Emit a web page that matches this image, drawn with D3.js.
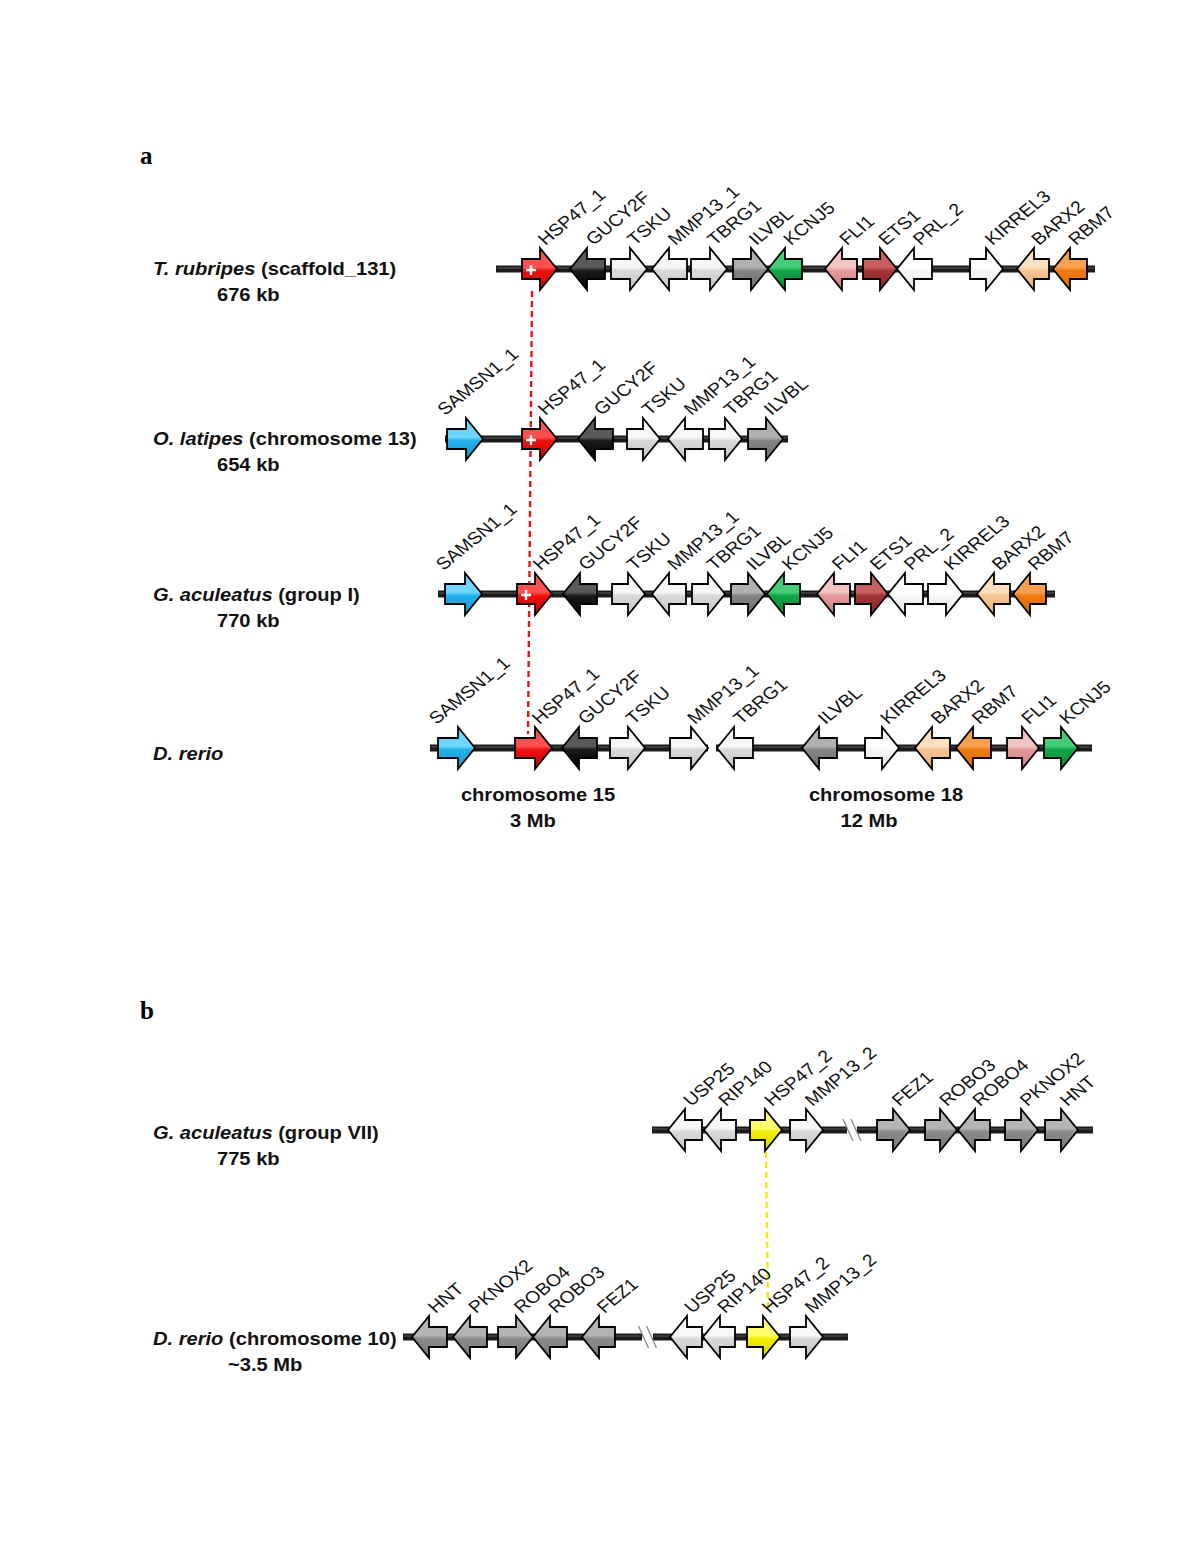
<!DOCTYPE html>
<html><head><meta charset="utf-8">
<script src="https://cdn.jsdelivr.net/npm/d3@7"></script>
<style>body{margin:0;background:#fff}svg{display:block}</style>
</head><body>
<script>
// ---------- DATA (positions in map units along the chromosome drawing) ----------
// gene: [name, start, end, strand(1 right / -1 left), colourClass, plusMark]
const genesTRubripes = [
  ["HSP47_1",122,157,1,"red",true],["GUCY2F",170,205,-1,"black"],["TSKU",211,247,1,"lgray"],
  ["MMP13_1",252,287,-1,"lgray"],["TBRG1",291,327,1,"lgray"],["ILVBL",333,368,1,"dgray"],
  ["KCNJ5",368,402,-1,"green"],["FLI1",425,457,-1,"pink"],["ETS1",463,497,1,"darkred"],
  ["PRL_2",497,532,-1,"white"],["KIRREL3",570,603,1,"white"],["BARX2",617,649,-1,"peach"],
  ["RBM7",653,687,-1,"orange"]
];
const genesOLatipes = [
  ["SAMSN1_1",47,83,1,"cyan"],["HSP47_1",122,157,1,"red",true],["GUCY2F",178,213,-1,"black"],
  ["TSKU",227,260,1,"lgray"],["MMP13_1",268,303,-1,"lgray"],["TBRG1",309,342,1,"lgray"],
  ["ILVBL",348,383,1,"dgray"]
];
const genesGAculeatusI = [
  ["SAMSN1_1",45,82,1,"cyan"],["HSP47_1",117,152,1,"red",true],["GUCY2F",163,197,-1,"black"],
  ["TSKU",212,245,1,"lgray"],["MMP13_1",252,286,-1,"lgray"],["TBRG1",292,325,1,"lgray"],
  ["ILVBL",331,365,1,"dgray"],["KCNJ5",367,400,-1,"green"],["FLI1",417,450,-1,"pink"],
  ["ETS1",455,488,1,"darkred"],["PRL_2",488,523,-1,"white"],["KIRREL3",528,563,1,"white"],
  ["BARX2",577,610,-1,"peach"],["RBM7",613,646,-1,"orange"]
];
const genesDRerioA = [
  ["SAMSN1_1",38,75,1,"cyan"],["HSP47_1",115,152,1,"red"],["GUCY2F",162,197,-1,"black"],
  ["TSKU",210,245,1,"lgray"],["MMP13_1",270,308,1,"lgray"],["TBRG1",317,353,-1,"lgray"],
  ["ILVBL",402,437,-1,"dgray"],["KIRREL3",465,499,1,"white"],["BARX2",515,550,-1,"peach"],
  ["RBM7",556,591,-1,"orange"],["FLI1",607,639,1,"pink"],["KCNJ5",644,678,1,"green"]
];
const genesGAculeatusVII = [
  ["USP25",268,302,-1,"lgray"],["RIP140",304,336,-1,"lgray"],["HSP47_2",350,382,1,"yellow"],
  ["MMP13_2",390,423,1,"lgray"],["FEZ1",477,510,1,"mgray"],["ROBO3",525,557,1,"mgray"],
  ["ROBO4",558,590,-1,"mgray"],["PKNOX2",605,638,1,"mgray"],["HNT",645,678,1,"mgray"]
];
const genesDRerio10 = [
  ["HNT",12,47,-1,"mgray"],["PKNOX2",53,87,-1,"mgray"],["ROBO4",98,133,1,"mgray"],
  ["ROBO3",133,167,-1,"mgray"],["FEZ1",182,215,-1,"mgray"],["USP25",270,302,-1,"lgray"],
  ["RIP140",303,335,-1,"lgray"],["HSP47_2",347,380,1,"yellow"],["MMP13_2",390,423,1,"lgray"]
];
// chromosome backbone segments per row
const segTRubripes = [[96,695]];
const segOLatipes = [[45,388]];
const segGAculeatusI = [[38,655]];
const segDRerioA = [[30,308],[316,692]];
const segGAculeatusVII = [[252,447],[457,693]];
const segDRerio10 = [[3,242],[253,448]];
// row titles: [italic species, rest, size]
const titles = [
  ["T. rubripes"," (scaffold_131)","676 kb"],
  ["O. latipes"," (chromosome 13)","654 kb"],
  ["G. aculeatus"," (group I)","770 kb"],
  ["D. rerio","",""],
  ["G. aculeatus"," (group VII)","775 kb"],
  ["D. rerio"," (chromosome 10)","~3.5 Mb"]
];
const chromLabels = [["chromosome 15","3 Mb",138,133],["chromosome 18","12 Mb",486,469]];
const orthoRed = [132,128];
const orthoYellow = [366,368];

// ---------- LAYOUT ----------
const W=1200,H=1553;
const x = d3.scaleLinear().domain([0,800]).range([400,1200]);
const rowY = [269,439,594,748,1130,1337];
const titleY = [275,445,601,760,1139,1345];
const rows = [
  {genes:genesTRubripes,seg:segTRubripes},
  {genes:genesOLatipes,seg:segOLatipes},
  {genes:genesGAculeatusI,seg:segGAculeatusI},
  {genes:genesDRerioA,seg:segDRerioA},
  {genes:genesGAculeatusVII,seg:segGAculeatusVII},
  {genes:genesDRerio10,seg:segDRerio10}
];
const palette = {
  red:["#ff5050","#ee1111","#c80000"], black:["#5a5a5a","#1a1a1a","#000"],
  lgray:["#f7f7f7","#d9d9d9","#c4c4c4"], dgray:["#b0b0b0","#858585","#6c6c6c"],
  mgray:["#b4b4b4","#8c8c8c","#767676"],
  green:["#45cc78","#11a546","#0b8a38"], pink:["#f3c4c4","#e3989a","#cf8082"],
  darkred:["#c66060","#a33535","#8a2626"], white:["#ffffff","#f6f6f6","#e6e6e6"],
  peach:["#fde0c0","#f6c392","#eeb07a"], orange:["#f9a050","#ee7a10","#d86a00"],
  cyan:["#6fd6ff","#22b0ea","#1598cf"], yellow:["#ffff70","#f2ee00","#d8d400"]
};
const SX = 1.15; // horizontal stretch of the lettering

const svg = d3.select("body").append("svg").attr("width",W).attr("height",H);
const defs = svg.append("defs");
Object.entries(palette).forEach(([k,c])=>{
  const g = defs.append("linearGradient").attr("id","g-"+k).attr("x1",0).attr("y1",0).attr("x2",0).attr("y2",1);
  g.append("stop").attr("offset","0%").attr("stop-color",c[0]);
  g.append("stop").attr("offset","46%").attr("stop-color",c[0]);
  g.append("stop").attr("offset","54%").attr("stop-color",c[1]);
  g.append("stop").attr("offset","100%").attr("stop-color",c[2]);
});

// panel letters
svg.append("text").attr("x",140).attr("y",164).attr("font-family","Liberation Serif, Times New Roman, serif")
  .attr("font-weight","bold").attr("font-size",25).text("a");
svg.append("text").attr("x",140).attr("y",1019).attr("font-family","Liberation Serif, Times New Roman, serif")
  .attr("font-weight","bold").attr("font-size",25).text("b");

const font = "Liberation Sans, Arial, sans-serif";
function stretchedText(px,py,anchor){
  return svg.append("text").attr("transform",`translate(${px},${py}) scale(${SX},1)`)
    .attr("text-anchor",anchor||"start").attr("font-family",font)
    .attr("font-weight","bold").attr("font-size",17.5).attr("fill","#111");
}
// titles
titles.forEach((t,i)=>{
  const y = titleY[i];
  const tx = stretchedText(153,y);
  tx.append("tspan").attr("font-style","italic").text(t[0]);
  tx.append("tspan").text(t[1]);
  if(t[2]) stretchedText(i===5?228:217,y+26).text(t[2]);
});
chromLabels.forEach(c=>{
  stretchedText(x(c[2]),801,"middle").text(c[0]);
  stretchedText(x(c[3]),827,"middle").text(c[1]);
});

// ortholog connectors
svg.append("line").attr("x1",x(orthoRed[0])).attr("y1",rowY[0]+22).attr("x2",x(orthoRed[1])).attr("y2",rowY[3]-14)
  .attr("stroke","#ee1111").attr("stroke-width",2.4).attr("stroke-dasharray","6,4");
svg.append("line").attr("x1",x(orthoYellow[0])).attr("y1",rowY[4]+22).attr("x2",x(orthoYellow[1])).attr("y2",rowY[5]-27)
  .attr("stroke","#f2ee00").attr("stroke-width",2.4).attr("stroke-dasharray","6,4");

const BH=10, HH=21, HL=17;
function arrowPath(s,e,dir,y){
  const a=x(s), b=x(e);
  if(dir>0){
    const h=b-HL;
    return `M${a},${y-BH}L${h},${y-BH}L${h},${y-HH}L${b},${y}L${h},${y+HH}L${h},${y+BH}L${a},${y+BH}Z`;
  } else {
    const h=a+HL;
    return `M${b},${y-BH}L${h},${y-BH}L${h},${y-HH}L${a},${y}L${h},${y+HH}L${h},${y+BH}L${b},${y+BH}Z`;
  }
}

rows.forEach((r,i)=>{
  const y=rowY[i];
  const g=svg.append("g");
  g.selectAll("line.bb").data(r.seg).enter().append("line")
    .attr("x1",d=>x(d[0])).attr("x2",d=>x(d[1])).attr("y1",y).attr("y2",y)
    .attr("stroke","#1a1a1a").attr("stroke-width",7);
  g.selectAll("line.hl").data(r.seg).enter().append("line")
    .attr("x1",d=>x(d[0])+1).attr("x2",d=>x(d[1])-1).attr("y1",y-1).attr("y2",y-1)
    .attr("stroke","#5a5a5a").attr("stroke-width",1.2);
  if(r.seg.length>1 && i>=4){
    const gx = (x(r.seg[0][1])+x(r.seg[1][0]))/2;
    [-4,4].forEach(o=>{
      g.append("line").attr("x1",gx+o-5).attr("y1",y-11).attr("x2",gx+o+5).attr("y2",y+11)
        .attr("stroke","#888").attr("stroke-width",1.3);
    });
  }
  g.selectAll("path.gene").data(r.genes).enter().append("path")
    .attr("d",d=>arrowPath(d[1],d[2],d[3],y))
    .attr("fill",d=>`url(#g-${d[4]})`).attr("stroke","#000").attr("stroke-width",1.8)
    .attr("stroke-linejoin","miter");
  r.genes.filter(d=>d[5]).forEach(d=>{
    const cx = d[3]>0 ? (x(d[1])+x(d[2])-HL)/2 : (x(d[1])+HL+x(d[2]))/2;
    g.append("path").attr("d",`M${cx-5},${y+1}H${cx+5}M${cx},${y-4}V${y+6}`)
      .attr("stroke","#fff").attr("stroke-width",2.4);
  });
  g.selectAll("text.lab").data(r.genes).enter().append("text")
    .attr("transform",d=>{
      const c=(x(d[1])+x(d[2]))/2 + (d[0]==="SAMSN1_1"? -20 : 6);
      return `translate(${c},${y-23}) scale(${SX},1) rotate(-43)`;
    })
    .attr("font-family",font).attr("font-size",17).attr("fill","#111").text(d=>d[0]);
});
</script>
</body></html>
